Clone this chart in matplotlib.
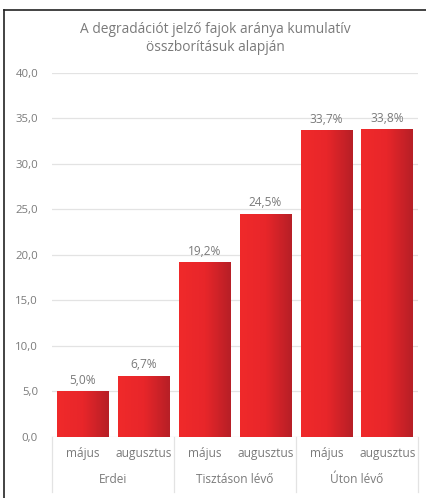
import matplotlib
matplotlib.use('Agg')

import numpy as np
import matplotlib.pyplot as plt
from matplotlib.colors import LinearSegmentedColormap
from matplotlib.lines import Line2D

groups = ['Erdei', 'Tisztáson lévő', 'Úton lévő']
months = ['május', 'augusztus']
values = [5.0, 6.7, 19.2, 24.5, 33.7, 33.8]
yticks = [0, 5, 10, 15, 20, 25, 30, 35, 40]

grey = '#7a7a7a'
plt.rcParams['font.family'] = ['Open Sans', 'DejaVu Sans']

fig = plt.figure(figsize=(4.26, 4.98), dpi=100)
ax = fig.add_axes([0.122, 0.1225, 0.859, 0.731])

red = LinearSegmentedColormap.from_list('red', ['#f02a2a', '#e8262a', '#b71f26'])
grad = np.linspace(0, 1, 64).reshape(1, -1)
width = 0.85
x = np.arange(len(values))
for xi, v in zip(x, values):
    ax.imshow(grad, cmap=red, aspect='auto', zorder=2,
              extent=(xi - width / 2, xi + width / 2, 0, v))
    ax.text(xi, v + 0.5, f'{v:.1f}%'.replace('.', ','), ha='center', va='bottom',
            fontsize=8.6, color=grey)

ax.set_xlim(-0.5, len(values) - 0.5)
ax.set_ylim(0, 40)
ax.set_yticks(yticks)
ax.set_yticklabels([f'{t:.1f}'.replace('.', ',') for t in yticks])
ax.grid(axis='y', color='#e3e3e3', lw=0.9, zorder=0)
ax.set_axisbelow(True)
for s in ax.spines.values():
    s.set_visible(False)
ax.tick_params(axis='y', length=0, pad=10, labelsize=8.2, labelcolor=grey)
ax.tick_params(axis='x', length=0, pad=7, labelsize=8.6, labelcolor=grey)
ax.set_xticks(x)
ax.set_xticklabels(months * len(groups))

# group labels and separators under the axis
for i, g in enumerate(groups):
    ax.text(2 * i + 0.5, -0.118, g, transform=ax.get_xaxis_transform(),
            ha='center', va='center', fontsize=8.6, color=grey)
for b in [-0.5, 1.5, 3.5, 5.5]:
    ax.plot([b, b], [0, -0.152], transform=ax.get_xaxis_transform(),
            color='#e3e3e3', lw=0.9, clip_on=False)

fig.text(0.505, 0.922, 'A degradációt jelző fajok aránya kumulatív\nösszborításuk alapján',
         ha='center', va='center', fontsize=9.9, color=grey, linespacing=1.25)

# outer frame, top and left edges
fig.add_artist(Line2D([4 / 426, 1], [1 - 10 / 498] * 2, color='#222222', lw=1.2))
fig.add_artist(Line2D([4 / 426] * 2, [0, 1 - 10 / 498], color='#222222', lw=1.2))

fig.savefig('out.png', dpi=100)
